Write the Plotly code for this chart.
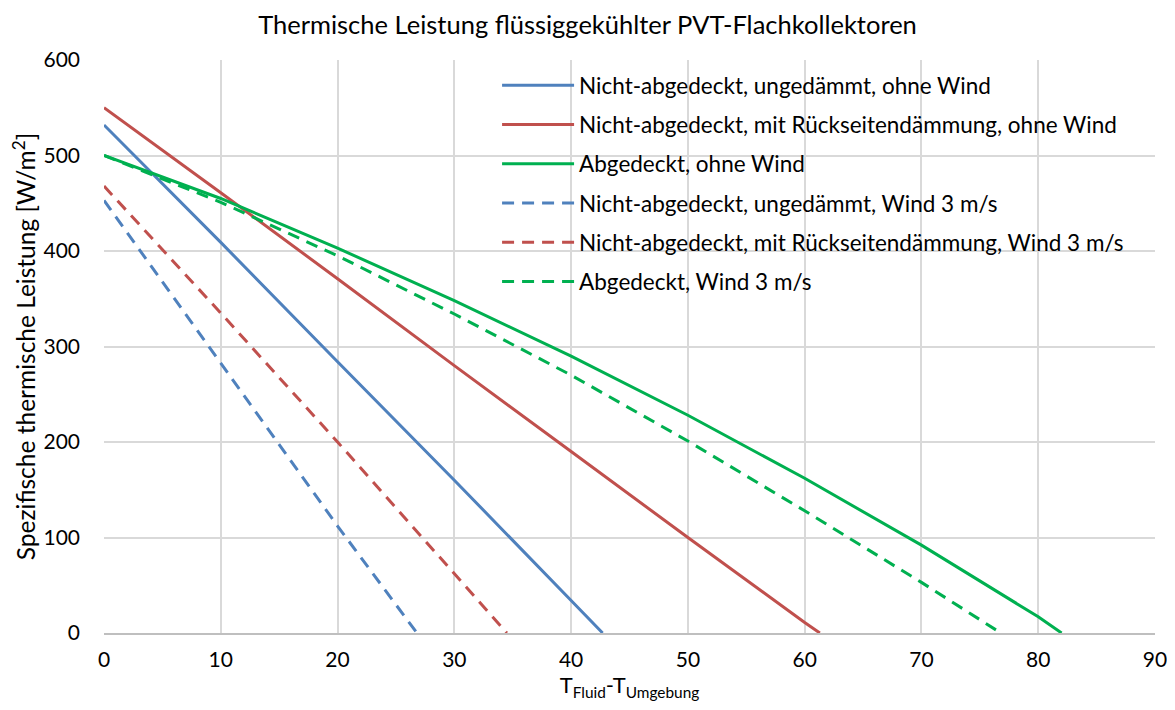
import plotly.graph_objects as go

# Data
names = [
    "Nicht-abgedeckt, ungedämmt, ohne Wind",
    "Nicht-abgedeckt, mit Rückseitendämmung, ohne Wind",
    "Abgedeckt, ohne Wind",
    "Nicht-abgedeckt, ungedämmt, Wind 3 m/s",
    "Nicht-abgedeckt, mit Rückseitendämmung, Wind 3 m/s",
    "Abgedeckt, Wind 3 m/s",
]

x_blue_solid = [0, 10, 20, 30, 40, 42.7]
y_blue_solid = [532, 409, 284, 160, 34, 0]

x_red_solid = [0, 10, 20, 30, 40, 50, 60, 61.3]
y_red_solid = [550, 461, 371, 280, 190, 100, 11, 0]

x_green_solid = [0, 10, 20, 30, 40, 50, 60, 70, 80, 82]
y_green_solid = [500, 455, 403, 348, 290, 228, 162, 92, 17, 0]

x_blue_dash = [0, 10, 20, 26.8]
y_blue_dash = [453, 283, 112, 0]

x_red_dash = [0, 10, 20, 30, 34.5]
y_red_dash = [468, 335, 200, 62, 0]

x_green_dash = [0, 10, 20, 30, 40, 50, 60, 70, 76.8]
y_green_dash = [500, 451, 395, 334, 270, 201, 128, 53, 0]

xs = [x_blue_solid, x_red_solid, x_green_solid, x_blue_dash, x_red_dash, x_green_dash]
ys = [y_blue_solid, y_red_solid, y_green_solid, y_blue_dash, y_red_dash, y_green_dash]
colors = ["#4F81BD", "#C0504D", "#00B050", "#4F81BD", "#C0504D", "#00B050"]
dashes = ["solid", "solid", "solid", "12px,8px", "12px,8px", "12px,8px"]

FONT = "Lato"

fig = go.Figure()
for i in range(6):
    fig.add_trace(go.Scatter(
        x=xs[i], y=ys[i], mode="lines", name=names[i],
        line=dict(color=colors[i], width=3, dash=dashes[i]),
        legendgroup=f"g{i}",
    ))

fig.update_layout(
    width=1159, height=694,
    margin=dict(l=96, r=12, t=52, b=69, autoexpand=False),
    paper_bgcolor="white", plot_bgcolor="white",
    font=dict(family=FONT, size=21, color="#000000"),
    title=dict(text="Thermische Leistung flüssiggekühlter PVT-Flachkollektoren",
               x=0.5, xanchor="center", y=0.9755, yanchor="middle",
               font=dict(family=FONT, size=25.5, color="#000000")),
    showlegend=True,
    legend=dict(x=0.374, y=0.993, xanchor="left", yanchor="top",
                bgcolor="rgba(0,0,0,0)", borderwidth=0,
                font=dict(family=FONT, size=22.5, color="#000000"),
                tracegroupgap=7, itemwidth=72),
    xaxis=dict(range=[0, 90], tickvals=list(range(0, 91, 10)),
               automargin=True,
               showgrid=True, gridcolor="#D9D9D9", gridwidth=1.5,
               zeroline=False, showline=True, linecolor="#BFBFBF", linewidth=1.5,
               ticks="", tickfont=dict(family=FONT, size=21),
               ticklabelstandoff=7, ticklabeloverflow="allow",
               title=dict(text="T<sub>Fluid</sub>-T<sub>Umgebung</sub>",
                          font=dict(family=FONT, size=22), standoff=2)),
    yaxis=dict(range=[0, 600], tickvals=list(range(0, 601, 100)),
               automargin=True,
               showgrid=True, gridcolor="#D9D9D9", gridwidth=1.5,
               zeroline=False, showline=False,
               ticks="", tickfont=dict(family=FONT, size=21),
               ticklabelstandoff=23,
               title=dict(text="Spezifische thermische Leistung [W/m<sup>2</sup>]",
                          font=dict(family=FONT, size=24.5), standoff=10)),
)

fig.write_html("out.html")
